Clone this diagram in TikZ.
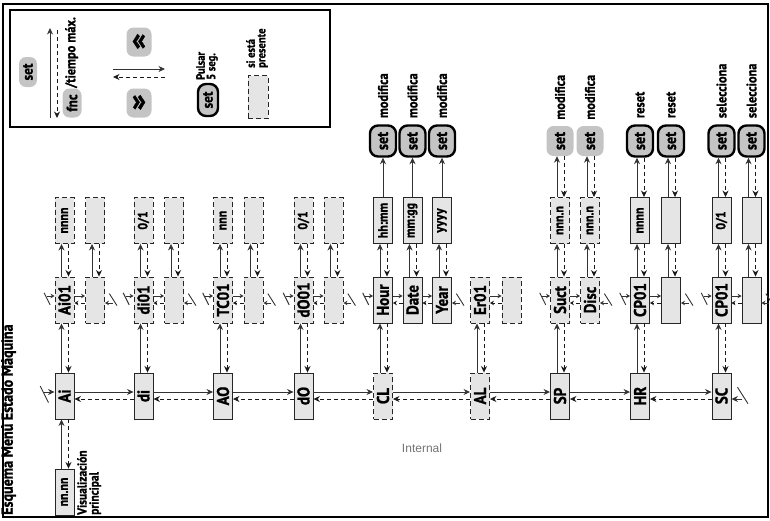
\documentclass[tikz,border=0pt]{standalone}
\usepackage{fontspec}
\setmainfont{PT Sans}[BoldFeatures={FakeBold=1.2,FakeStretch=0.88}]
\newfontfamily\plainfont{Liberation Sans}
\usepackage{graphicx}
\usetikzlibrary{arrows.meta,calc}
\newcommand{\rt}[1]{\rotatebox{90}{#1}}
\newcommand{\fsz}[2]{\fontsize{#1}{#2}\selectfont}
\tikzset{
  menubox/.style={draw=black!85,fill=black!10,line width=0.9pt,minimum width=19pt,minimum height=46pt,inner sep=0pt,font=\bfseries\fsz{17}{17}},
  optbox/.style={menubox,dash pattern=on 5pt off 3pt},
  valbox/.style={menubox,font=\bfseries\fsz{13.5}{13.5}},
  optval/.style={valbox,dash pattern=on 5pt off 3pt},
  setkey/.style={draw=black,line width=2.4pt,fill=black!23,rounded corners=8pt,minimum width=26pt,minimum height=31pt,inner sep=0pt,font=\bfseries\fsz{16}{16}},
  setbtn/.style={fill=black!23,rounded corners=7pt,minimum width=27pt,minimum height=30pt,inner sep=0pt,font=\bfseries\fsz{16}{16}},
  note/.style={rotate=90,inner sep=0pt,align=left,font=\bfseries\fsz{14}{14}},
  fwd/.style={->,draw=black!80,line width=0.8pt},
  bwd/.style={->,draw=black!90,line width=0.8pt,dash pattern=on 4pt off 3pt},
  smalltip/.style={-{Stealth[length=4pt,width=4.5pt]}},
  wrapmark/.style={draw=black!80,line width=0.9pt},
}
% up solid / down dashed between a lower and an upper box
\newcommand{\updown}[2]{%
  \draw[fwd] ([xshift=-3pt]#1.north) -- ([xshift=-3pt]#2.south);
  \draw[bwd] ([xshift=4pt]#2.south) -- ([xshift=4pt]#1.north);}
% solid forward / dashed back between neighbours
\newcommand{\pair}[3]{%
  \draw[fwd,#3] ([yshift=4pt]#1.east) -- ([yshift=4pt]#2.west);
  \draw[bwd,#3] ([yshift=-3pt]#2.west) -- ([yshift=-3pt]#1.east);}
% wrap-around entries
\newcommand{\wrapin}[3]{%
  \coordinate (#1-in) at ([xshift=-#2,yshift=4pt]#1.west);
  \draw[fwd,#3] (#1-in) -- ([yshift=4pt]#1.west);
  \draw[wrapmark] ([xshift=-1.3*#2,yshift=0.9*#2]#1.west) -- ([xshift=-0.55*#2,yshift=-0.6*#2]#1.west);}
\newcommand{\wrapout}[3]{%
  \coordinate (#1-out) at ([xshift=#2,yshift=-3pt]#1.east);
  \draw[fwd,#3] (#1-out) -- ([yshift=-3pt]#1.east);
  \draw[wrapmark] ([xshift=0.55*#2,yshift=0.8*#2]#1.east) -- ([xshift=1.5*#2,yshift=-0.7*#2]#1.east);}

\begin{document}
\begin{tikzpicture}[x=1pt,y=-1pt,>={Stealth[length=6.5pt,width=6pt]}]
  \useasboundingbox (0,0) rectangle (770,520);
  % frame and legend
  \draw[line width=2pt] (3,4) rectangle (768,517);
  \draw[line width=1.6pt] (10,10) rectangle (330,127);
  \node[setbtn,minimum width=18pt,minimum height=30pt,font=\bfseries\fsz{15}{15}] (lgset) at (28,72) {\rt{set}};
  \node[setbtn,minimum width=19pt,minimum height=29pt,font=\bfseries\fsz{15}{15}] (lgfnc) at (72,103) {\rt{fnc}};
  \coordinate (lgup-a) at (50,118); \coordinate (lgup-b) at (50,28);
  \coordinate (lgdn-a) at (57,30); \coordinate (lgdn-b) at (57,118);
  \draw[fwd] (lgup-a) -- (lgup-b);
  \draw[bwd] (lgdn-a) -- (lgdn-b);
  \node[note,anchor=north west] (lgmax) at (65,88) {/tiempo máx.};
  \node[setbtn,minimum width=25pt,minimum height=29pt,font=\bfseries\fsz{32}{32}] (lgprev) at (139,42) {«};
  \node[setbtn,minimum width=25pt,minimum height=29pt,font=\bfseries\fsz{32}{32}] (lgnext) at (139,103) {»};
  \coordinate (lgr-a) at (113,69); \coordinate (lgr-b) at (165,69);
  \coordinate (lgl-a) at (165,77); \coordinate (lgl-b) at (113,77);
  \draw[fwd] (lgr-a) -- (lgr-b);
  \draw[bwd] (lgl-a) -- (lgl-b);
  \node[setkey,minimum width=20pt,minimum height=32pt,font=\bfseries\fsz{15}{15}] (lgkey) at (208,100) {\rt{set}};
  \node[note,font=\bfseries\fsz{12}{10.5}] (lgpress) [anchor=north west] at (196,80) {Pulsar\\5 seg.};
  \node[optbox,minimum width=20pt,minimum height=43pt] (lgopt) at (258,97) {};
  \node[note,font=\bfseries\fsz{12}{10.5}] (lgopttxt) [anchor=north west] at (246,68) {si está\\presente};
  % title and notes
  \node[note,anchor=north west,font=\bfseries\fsz{16}{16}] (title) at (1,515) {Esquema Menú Estado Máquina};
  \node[note,anchor=north west,font=\bfseries\fsz{13}{12}] (disptxt) at (77,515) {Visualización\\principal};
  \node[font=\plainfont\fsz{12}{12},text=black!55] (internal) at (422,448) {Internal};
  % main row
  \foreach \n/\x/\t/\s in {Ai/64.5/Ai/menubox,di/143.5/di/menubox,AO/223/AO/menubox,dO/303.5/dO/menubox,CL/383/CL/optbox,AL/480/AL/optbox,SP/560/SP/menubox,HR/640/HR/menubox,SC/721.5/SC/menubox}
    \node[\s] (\n) at (\x,396) {\rt{\t}};
  \node[valbox] (disp) at (64.5,492) {\rt{nn.nn}};
  % sub menus
  \foreach \n/\x/\t/\s in {Ai01/64.5/Ai01/optbox,Aix/95/{}/optbox,di01/143.5/di01/optbox,dix/174/{}/optbox,TC01/223/TC01/optbox,TCx/253.5/{}/optbox,dO01/303.5/dO01/optbox,dOx/333.5/{}/optbox,Hour/383/Hour/menubox,Date/412.5/Date/menubox,Year/442/Year/menubox,Er01/480/Er01/optbox,Erx/511.5/{}/optbox,Suct/560/Suct/optbox,Disc/590/Disc/optbox,CPh/640/CP01/menubox,CPhx/671/{}/menubox,CPs/721.5/CP01/menubox,CPsx/751.5/{}/menubox}
    \node[\s] (\n) at (\x,300) {\rt{\t}};
  % values
  \foreach \n/\x/\t/\s in {Aiv/64.5/nnnn/optval,Aixv/95/{}/optval,div/143.5/{0/1}/optval,dixv/174/{}/optval,TCv/223/nnn/optval,TCxv/253.5/{}/optval,dOv/303.5/{0/1}/optval,dOxv/333.5/{}/optval,Hourv/383/{hh:mm}/valbox,Datev/412.5/{mm:gg}/valbox,Yearv/442/yyyy/valbox,Suctv/560/{nnn.n}/optval,Discv/590/{nnn.n}/optval,CPhv/640/nnnn/valbox,CPhxv/671/{}/valbox,CPsv/721.5/{0/1}/valbox,CPsxv/751.5/{}/valbox}
    \node[\s] (\n) at (\x,220.5) {\rt{\t}};
  % keys
  \foreach \n/\x/\s/\t in {Hours/383/setkey/modifica,Dates/412.5/setkey/modifica,Years/442/setkey/modifica,Sucts/560/setbtn/modifica,Discs/590/setbtn/modifica,CPhs/640/setkey/reset,CPhxs/671/setkey/reset,CPss/721.5/setkey/selecciona,CPsxs/751.5/setkey/selecciona}
  {
    \node[\s] (\n) at (\x,141) {\rt{set}};
    \node[note,anchor=west] (\n-txt) at ([yshift=6pt]\n.north) {\t};
  }
  % connections
  \foreach \a/\b in {Ai/di,di/AO,AO/dO,dO/CL,CL/AL,AL/SP,SP/HR,HR/SC}
    \pair{\a}{\b}{};
  \foreach \a/\b in {Ai01/Aix,di01/dix,TC01/TCx,dO01/dOx,Hour/Date,Date/Year,Er01/Erx,Suct/Disc,CPh/CPhx,CPs/CPsx}
    \pair{\a}{\b}{smalltip};
  \foreach \a/\b in {disp/Ai,Ai/Ai01,di/di01,AO/TC01,dO/dO01,CL/Hour,AL/Er01,SP/Suct,HR/CPh,SC/CPs,Ai01/Aiv,Aix/Aixv,di01/div,dix/dixv,TC01/TCv,TCx/TCxv,dO01/dOv,dOx/dOxv,Hour/Hourv,Date/Datev,Year/Yearv,Suct/Suctv,Disc/Discv,CPh/CPhv,CPhx/CPhxv,CPs/CPsv,CPsx/CPsxv,Suctv/Sucts,Discv/Discs,CPhv/CPhs,CPhxv/CPhxs,CPsv/CPss,CPsxv/CPsxs}
    \updown{\a}{\b};
  \foreach \a/\b in {Hourv/Hours,Datev/Dates,Yearv/Years}
    \draw[fwd] (\a) -- (\b);
  % wrap marks
  \wrapin{Ai}{11pt}{}
  \wrapout{SC}{11pt}{}
  \foreach \n in {Ai01,di01,TC01,dO01,Hour,Suct,CPh,CPs}
    \wrapin{\n}{8pt}{smalltip};
  \foreach \n in {Aix,dix,TCx,dOx,Year,Disc,CPhx,CPsx}
    \wrapout{\n}{8pt}{smalltip};
\end{tikzpicture}
\end{document}
